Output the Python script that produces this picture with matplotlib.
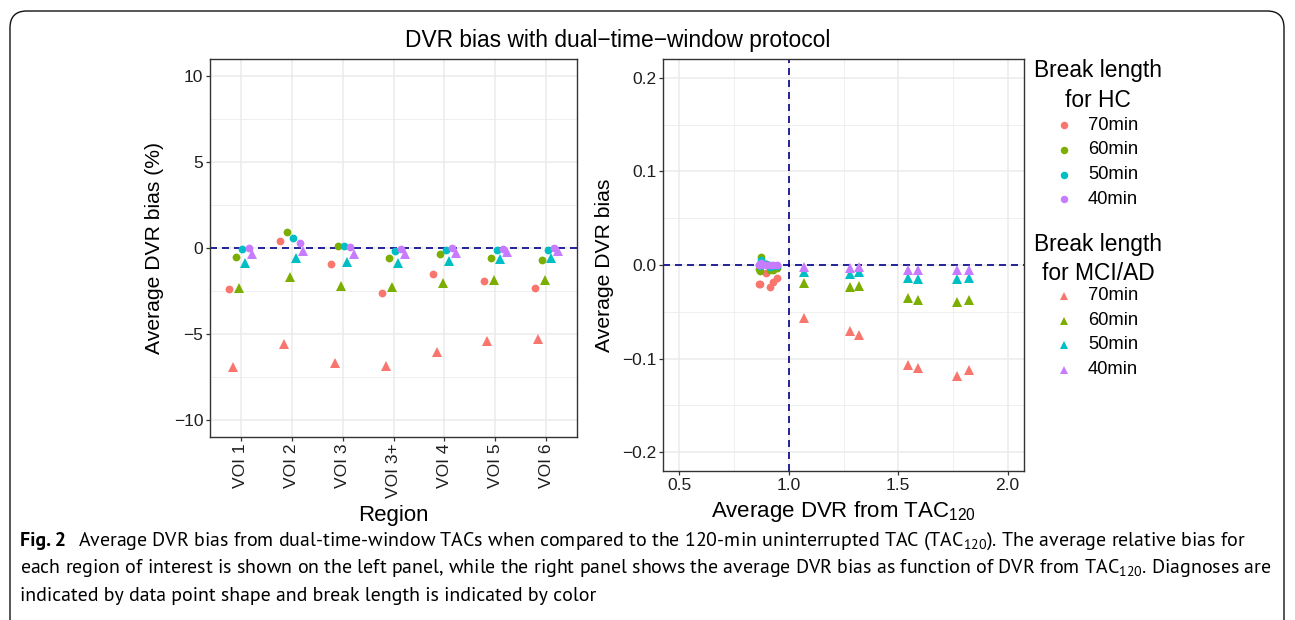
import matplotlib
matplotlib.use("Agg")
import numpy as np
import matplotlib.pyplot as plt
from matplotlib.patches import FancyBboxPatch
from matplotlib.lines import Line2D

# ---------------- data ----------------
regions = ["VOI 1", "VOI 2", "VOI 3", "VOI 3+", "VOI 4", "VOI 5", "VOI 6"]
break_labels = ["70min", "60min", "50min", "40min"]
colors = ["#F8766D", "#7CAE00", "#00BFC4", "#C77CFF"]

# left panel: average relative DVR bias (%) per region
hc_pct_70 = [-2.40, 0.41, -0.93, -2.60, -1.49, -1.94, -2.33]
hc_pct_60 = [-0.50, 0.95, 0.14, -0.60, -0.35, -0.58, -0.70]
hc_pct_50 = [-0.06, 0.56, 0.14, -0.19, -0.10, -0.13, -0.13]
hc_pct_40 = [0.02, 0.27, 0.06, -0.06, -0.02, -0.04, 0.02]
mci_pct_70 = [-6.90, -5.60, -6.67, -6.88, -6.06, -5.42, -5.27]
mci_pct_60 = [-2.30, -1.66, -2.19, -2.27, -2.03, -1.88, -1.84]
mci_pct_50 = [-0.85, -0.56, -0.83, -0.85, -0.76, -0.66, -0.60]
mci_pct_40 = [-0.33, -0.17, -0.33, -0.33, -0.27, -0.21, -0.17]

# right panel: average DVR bias vs DVR from TAC120
hc_dvr = [0.862, 0.872, 0.898, 0.914, 0.947, 0.927, 0.868]
hc_bias_70 = [-0.0207, 0.0036, -0.0088, -0.0240, -0.0141, -0.0184, -0.0202]
hc_bias_60 = [-0.0043, 0.0083, 0.0013, -0.0055, -0.0033, -0.0054, -0.0061]
hc_bias_50 = [-0.0005, 0.0049, 0.0013, -0.0017, -0.0009, -0.0012, -0.0011]
hc_bias_40 = [0.0002, 0.0024, 0.0005, -0.0005, -0.0002, -0.0004, 0.0002]
mci_dvr = [1.068, 1.278, 1.323, 1.545, 1.591, 1.771, 1.825]
mci_bias_70 = [-0.0567, -0.0700, -0.0750, -0.1070, -0.1100, -0.1190, -0.1120]
mci_bias_60 = [-0.0195, -0.0240, -0.0220, -0.0355, -0.0372, -0.0394, -0.0376]
mci_bias_50 = [-0.0071, -0.0092, -0.0078, -0.0135, -0.0145, -0.0152, -0.0142]
mci_bias_40 = [-0.0025, -0.0032, -0.0021, -0.0053, -0.0053, -0.0053, -0.0050]

hc_pct = [hc_pct_70, hc_pct_60, hc_pct_50, hc_pct_40]
mci_pct = [mci_pct_70, mci_pct_60, mci_pct_50, mci_pct_40]
hc_bias = [hc_bias_70, hc_bias_60, hc_bias_50, hc_bias_40]
mci_bias = [mci_bias_70, mci_bias_60, mci_bias_50, mci_bias_40]

# ---------------- style ----------------
FONT = "Liberation Sans"
CAP_FONT = "PT Sans"
plt.rcParams["font.family"] = [FONT, "DejaVu Sans"]
plt.rcParams["mathtext.fontset"] = "custom"
plt.rcParams["mathtext.rm"] = FONT
plt.rcParams["axes.unicode_minus"] = True

W, H = 1295, 620
fig = plt.figure(figsize=(W / 100, H / 100), dpi=100)


def fx(px):
    return px / W


def fy(py):
    return 1 - py / H


def add_axes_px(x0, y0, x1, y1):
    return fig.add_axes([fx(x0), fy(y1), fx(x1 - x0), (y1 - y0) / H])


GRID = "#EBEBEB"
BORDER = "#333333"
TICKCOL = "#1e1e1e"
DASH = "#00008B"
TICK_FS = 12.5
XLAB_FS = 16.0
YLAB_FS = 15.2
TITLE_FS = 16.4
MS_C = 5.6
MS_T = 6.6


def style_axes(ax):
    ax.set_facecolor("white")
    for s in ax.spines.values():
        s.set_color(BORDER)
        s.set_linewidth(1.0)
    ax.tick_params(which="major", length=2.8, width=0.9, color=BORDER,
                   labelsize=TICK_FS, labelcolor=TICKCOL, pad=2)
    ax.tick_params(which="minor", length=0)
    ax.grid(True, which="major", color=GRID, linewidth=1.1)
    ax.grid(True, which="minor", color=GRID, linewidth=0.55)
    ax.set_axisbelow(True)


# ---------------- left panel ----------------
axL = add_axes_px(210, 59, 577, 437)
style_axes(axL)
xpos = np.arange(1, len(regions) + 1)
dodge = 0.5
ngroups = 8
for ci in range(4):
    off_c = (2 * ci - 3.5) * dodge / ngroups
    off_t = (2 * ci + 1 - 3.5) * dodge / ngroups
    axL.plot(xpos + off_c, hc_pct[ci], "o", color=colors[ci], ms=MS_C, mew=0, zorder=3)
    axL.plot(xpos + off_t, mci_pct[ci], "^", color=colors[ci], ms=MS_T, mew=0, zorder=3)
axL.axhline(0, color=DASH, lw=1.2, dashes=(4.2, 3.0), zorder=2)
axL.set_xlim(0.4, len(regions) + 0.6)
axL.set_ylim(-11, 11)
axL.set_xticks(xpos)
axL.set_xticklabels(regions, rotation=90, ha="center", va="top")
axL.set_yticks([-10, -5, 0, 5, 10])
axL.set_yticklabels(["\u221210", "\u22125", "0", "5", "10"])
axL.set_yticks([-7.5, -2.5, 2.5, 7.5], minor=True)
axL.grid(False, which="minor", axis="x")
axL.set_xlabel("Region", fontsize=XLAB_FS)
axL.set_ylabel("Average DVR bias (%)", fontsize=YLAB_FS)
axL.xaxis.set_label_coords(0.5, (437 - 515) / 378)
axL.xaxis.label.set_va("center")
axL.yaxis.set_label_coords((155 - 210) / 367, 0.5)
axL.yaxis.label.set_va("center")

# ---------------- right panel ----------------
axR = add_axes_px(663, 59, 1024, 471)
style_axes(axR)
for ci in range(4):
    axR.plot(hc_dvr, hc_bias[ci], "o", color=colors[ci], ms=MS_C, mew=0, zorder=3)
    axR.plot(mci_dvr, mci_bias[ci], "^", color=colors[ci], ms=MS_T, mew=0, zorder=3)
axR.axhline(0, color=DASH, lw=1.2, dashes=(4.2, 3.0), zorder=2)
axR.axvline(1.0, color=DASH, lw=1.2, dashes=(4.2, 3.0), zorder=2)
axR.set_xlim(0.425, 2.075)
axR.set_ylim(-0.22, 0.22)
axR.set_xticks([0.5, 1.0, 1.5, 2.0])
axR.set_xticklabels(["0.5", "1.0", "1.5", "2.0"])
axR.set_xticks([0.75, 1.25, 1.75], minor=True)
axR.set_yticks([-0.2, -0.1, 0.0, 0.1, 0.2])
axR.set_yticklabels(["\u22120.2", "\u22120.1", "0.0", "0.1", "0.2"])
axR.set_yticks([-0.15, -0.05, 0.05, 0.15], minor=True)
axR.set_xlabel(r"Average DVR from TAC$_{\mathregular{120}}$", fontsize=XLAB_FS)
axR.set_ylabel("Average DVR bias", fontsize=YLAB_FS)
axR.xaxis.set_label_coords(0.5, (471 - 512) / 412)
axR.xaxis.label.set_va("center")
axR.yaxis.set_label_coords((604 - 663) / 361, 0.5)
axR.yaxis.label.set_va("center")

# ---------------- title ----------------
fig.text(fx(618), fy(41), "DVR bias with dual\u2212time\u2212window protocol",
         ha="center", va="center", fontsize=TITLE_FS)

# ---------------- legends (manual, ggplot-like) ----------------
LEG_FS = 13.2


def legend_block(title_y, title, rows_y, marker):
    fig.text(fx(1098), fy(title_y), title, ha="center", va="center",
             fontsize=TITLE_FS, linespacing=1.38)
    for ci, (lab, yy) in enumerate(zip(break_labels, rows_y)):
        fig.add_artist(Line2D([fx(1064)], [fy(yy)], marker=marker, color=colors[ci],
                              ms=(MS_C - 0.2) if marker == "o" else (MS_T - 0.6), mew=0,
                              linestyle="none", transform=fig.transFigure))
        fig.text(fx(1088), fy(yy), lab, ha="left", va="center", fontsize=LEG_FS)


legend_block(85.5, "Break length\nfor HC", [125, 149.5, 174.5, 199], "o")
legend_block(259, "Break length\nfor MCI/AD", [296, 320.5, 345, 369.5], "^")

# ---------------- frame ----------------
frame = FancyBboxPatch((fx(10), fy(700)), fx(1284 - 10), (700 - 11) / H,
                       boxstyle="round,pad=0,rounding_size=0.013",
                       transform=fig.transFigure, fill=False, edgecolor="#111111",
                       linewidth=1.0, clip_on=False, mutation_aspect=W / H)
fig.add_artist(frame)

# ---------------- caption ----------------
renderer = fig.canvas.get_renderer()
cap1 = r"Average DVR bias from dual-time-window TACs when compared to the 120-min uninterrupted TAC (TAC$_{\mathregular{120}}$). The average relative bias for"
cap2 = r"each region of interest is shown on the left panel, while the right panel shows the average DVR bias as function of DVR from TAC$_{\mathregular{120}}$. Diagnoses are"
cap3 = "indicated by data point shape and break length is indicated by color"

# fit caption font size to the line widths seen in the reference
base = 13.0
GAP = 12
t_a = fig.text(0, 0, "Fig. 2", fontsize=base, family=CAP_FONT, fontweight="bold")
t_b = fig.text(0, 0, cap1, fontsize=base, family=CAP_FONT)
t_c = fig.text(0, 0, cap2, fontsize=base, family=CAP_FONT)
w1 = t_a.get_window_extent(renderer).width + t_b.get_window_extent(renderer).width
w2 = t_c.get_window_extent(renderer).width
for t in (t_a, t_b, t_c):
    t.remove()
CAP_FS = min(base * (1262 - 20 - GAP) / w1, base * (1266 - 20) / w2)

t_fig = fig.text(fx(20), fy(541), "Fig. 2", ha="left", va="center",
                 fontsize=CAP_FS, family=CAP_FONT, fontweight="bold")
bb = t_fig.get_window_extent(renderer)
fig.text((bb.x1 + GAP) / W, fy(541), cap1, ha="left", va="center", fontsize=CAP_FS, family=CAP_FONT)
fig.text(fx(20), fy(568), cap2, ha="left", va="center", fontsize=CAP_FS, family=CAP_FONT)
fig.text(fx(20), fy(596), cap3, ha="left", va="center", fontsize=CAP_FS, family=CAP_FONT)

fig.savefig("out.png", dpi=100)
